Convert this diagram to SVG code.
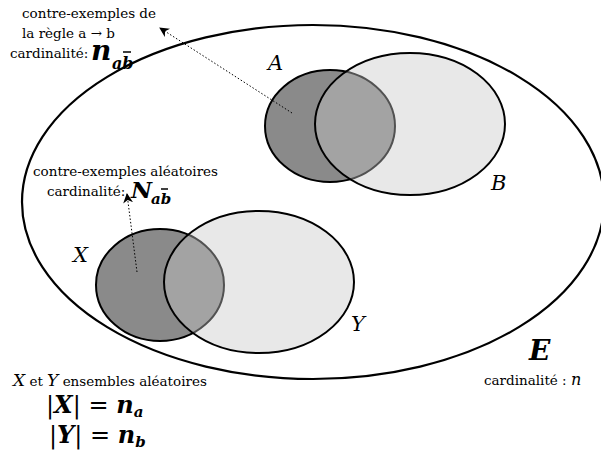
<svg xmlns="http://www.w3.org/2000/svg" width="601" height="458" viewBox="0 0 601 458">
<style>
.t{font-family:"DejaVu Serif","Liberation Serif",serif;font-size:13.5px;fill:#000}
.m{font-family:"DejaVu Serif","Liberation Serif",serif;font-style:italic;fill:#000}
.mb{font-family:"DejaVu Serif","Liberation Serif",serif;font-style:italic;font-weight:bold;fill:#000}
.dark{fill:#8a8a8a;stroke:#000;stroke-width:2}
.light{fill:#c7c7c7;fill-opacity:0.41;stroke:none}
.edge{fill:none;stroke:#000;stroke-width:2}
.dot{fill:none;stroke:#000;stroke-width:1;stroke-dasharray:1.5,2}
.bar{stroke:#000;stroke-width:1.5}
</style>
<defs>
<marker id="ah" viewBox="0 0 10 10" refX="9" refY="5" markerWidth="10" markerHeight="10" markerUnits="userSpaceOnUse" orient="auto">
<path d="M0,0 L10,5 L0,10 L3,5 Z" fill="#000"/>
</marker>
</defs>
<g id="E">
<ellipse cx="313" cy="202" rx="291" ry="177" fill="none" stroke="#000" stroke-width="2.2"/>
<text class="mb" x="529" y="360" font-size="28">E</text>
<text class="t" x="484" y="385" font-size="12.5">cardinalité : <tspan class="m" font-size="16">n</tspan></text>
</g>
<g id="A">
<ellipse class="dark" cx="330" cy="126" rx="65" ry="56"/>
<text class="m" x="268" y="70" font-size="21">A</text>
</g>
<g id="B">
<ellipse class="light" cx="410" cy="124" rx="95" ry="71"/>
<ellipse class="edge" cx="410" cy="124" rx="95" ry="71"/>
<text class="m" x="491" y="190" font-size="21">B</text>
</g>
<g id="X">
<ellipse class="dark" cx="160" cy="285" rx="64" ry="56"/>
<text class="m" x="73" y="262" font-size="21">X</text>
</g>
<g id="Y">
<ellipse class="light" cx="259" cy="282" rx="95" ry="71"/>
<ellipse class="edge" cx="259" cy="282" rx="95" ry="71"/>
<text class="m" x="351" y="331" font-size="21">Y</text>
</g>
<g id="connectors">
<line class="dot" x1="292" y1="113" x2="160" y2="28" marker-end="url(#ah)"/>
<line class="dot" x1="137" y1="272" x2="127" y2="194" marker-end="url(#ah)"/>
</g>
<g id="label-ab">
<text class="t" x="22" y="18">contre-exemples de</text>
<text class="t" x="22" y="38">la règle a → b</text>
<text class="t" x="10" y="58">cardinalité:</text>
<text class="mb" x="91" y="60" font-size="28">n</text>
<text class="mb" x="112" y="69" font-size="16">ab</text>
<line class="bar" x1="123" y1="52" x2="131" y2="52"/>
</g>
<g id="label-random">
<text class="t" x="33" y="176">contre-exemples aléatoires</text>
<text class="t" x="47" y="196">cardinalité:</text>
<text class="mb" x="131" y="198" font-size="23">N</text>
<text class="mb" x="151" y="204" font-size="15">ab</text>
<line class="bar" x1="161" y1="189" x2="168" y2="189"/>
</g>
<g id="label-xy">
<text class="t" x="13" y="386"><tspan class="m" font-size="17">X</tspan> et <tspan class="m" font-size="17">Y</tspan> ensembles aléatoires</text>
<text class="mb" x="46" y="413" font-size="24"><tspan font-style="normal" font-weight="normal">|</tspan>X<tspan font-style="normal" font-weight="normal">| = </tspan>n<tspan font-size="15" dy="4">a</tspan></text>
<text class="mb" x="49" y="443" font-size="24"><tspan font-style="normal" font-weight="normal">|</tspan>Y<tspan font-style="normal" font-weight="normal">| = </tspan>n<tspan font-size="15" dy="4">b</tspan></text>
</g>
</svg>
